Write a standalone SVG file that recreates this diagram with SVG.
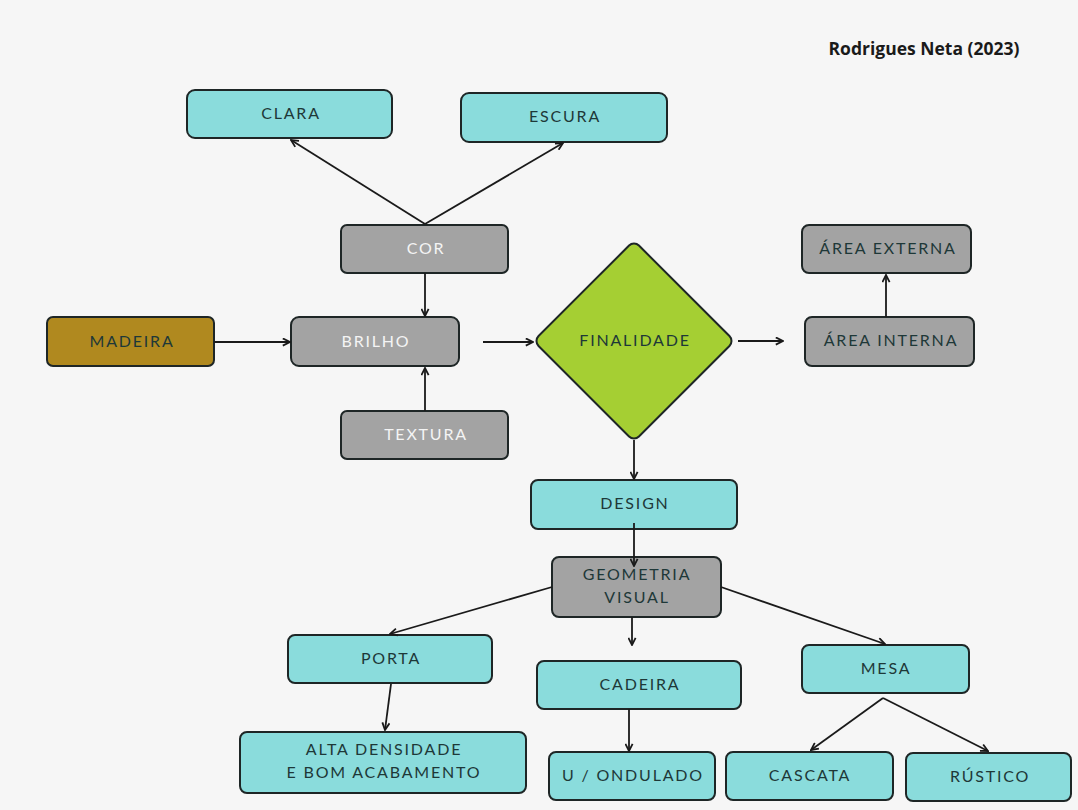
<svg xmlns="http://www.w3.org/2000/svg" width="1078" height="810" viewBox="0 0 1078 810">
<style>
.bx{stroke:#1e2626;stroke-width:2}
.cy{fill:#8adcdc}
.gr{fill:#a3a3a3}
.br{fill:#b0891f}
.t{font-family:Lato,"Open Sans",sans-serif;font-size:16px;letter-spacing:1.8px;text-anchor:middle;fill:#1e3838}
.w{fill:#f4f4f4}
.c{stroke:#1a1a1a;stroke-width:1.8;fill:none;marker-end:url(#ah)}
</style>
<defs>
<marker id="ah" viewBox="0 0 10 10" refX="9" refY="5" markerWidth="9" markerHeight="9" markerUnits="userSpaceOnUse" orient="auto">
<path d="M1,1 L9,5 L1,9" fill="none" stroke="#1a1a1a" stroke-width="2"/>
</marker>
</defs>
<rect x="0" y="0" width="1078" height="810" fill="#f6f6f6"/>
<text x="924" y="55" font-family="'Open Sans',sans-serif" font-weight="bold" font-size="17.5" text-anchor="middle" fill="#1a1a1a">Rodrigues Neta (2023)</text>
<g id="clara"><rect class="bx cy" x="187" y="90" width="205" height="48" rx="8"/><text class="t" x="291" y="119">CLARA</text></g>
<g id="escura"><rect class="bx cy" x="461" y="93" width="206" height="49" rx="8"/><text class="t" x="565" y="122">ESCURA</text></g>
<g id="cor"><rect class="bx gr" x="341" y="225" width="167" height="48" rx="6"/><text class="t w" x="426" y="254">COR</text></g>
<g id="madeira"><rect class="bx br" x="47" y="317" width="167" height="49" rx="6"/><text class="t" x="132" y="347" fill="#2a1e0a">MADEIRA</text></g>
<g id="brilho"><rect class="bx gr" x="291" y="317" width="168" height="49" rx="8"/><text class="t w" x="376" y="347">BRILHO</text></g>
<g id="textura"><rect class="bx gr" x="341" y="411" width="167" height="48" rx="6"/><text class="t w" x="426" y="440">TEXTURA</text></g>
<g id="finalidade"><rect class="bx" fill="#a5cf33" x="563" y="270" width="142" height="142" rx="7" transform="rotate(45 634 341)"/><text class="t" x="635" y="346">FINALIDADE</text></g>
<g id="area-externa"><rect class="bx gr" x="802" y="225" width="169" height="48" rx="7"/><text class="t" x="888" y="254">ÁREA EXTERNA</text></g>
<g id="area-interna"><rect class="bx gr" x="805" y="317" width="169" height="49" rx="7"/><text class="t" x="891" y="346">ÁREA INTERNA</text></g>
<g id="design"><rect class="bx cy" x="531" y="480" width="206" height="49" rx="7"/><text class="t" x="635" y="509">DESIGN</text></g>
<g id="geometria"><rect class="bx gr" x="552" y="557" width="169" height="60" rx="7"/><text class="t" x="637" y="580">GEOMETRIA</text><text class="t" x="637" y="603">VISUAL</text></g>
<g id="porta"><rect class="bx cy" x="288" y="635" width="204" height="48" rx="7"/><text class="t" x="391" y="664">PORTA</text></g>
<g id="cadeira"><rect class="bx cy" x="537" y="661" width="204" height="48" rx="7"/><text class="t" x="640" y="690">CADEIRA</text></g>
<g id="mesa"><rect class="bx cy" x="802" y="645" width="167" height="48" rx="7"/><text class="t" x="886" y="674">MESA</text></g>
<g id="alta"><rect class="bx cy" x="240" y="732" width="286" height="61" rx="7"/><text class="t" x="384" y="755">ALTA DENSIDADE</text><text class="t" x="384" y="778">E BOM ACABAMENTO</text></g>
<g id="ondulado"><rect class="bx cy" x="549" y="752" width="166" height="48" rx="7"/><text class="t" x="633" y="781">U / ONDULADO</text></g>
<g id="cascata"><rect class="bx cy" x="726" y="752" width="167" height="48" rx="7"/><text class="t" x="810" y="781">CASCATA</text></g>
<g id="rustico"><rect class="bx cy" x="906" y="753" width="165" height="48" rx="7"/><text class="t" x="990" y="782">RÚSTICO</text></g>
<g id="connectors">
<line class="c" x1="425" y1="224" x2="291" y2="140"/>
<line class="c" x1="425" y1="224" x2="563" y2="143"/>
<line class="c" x1="425" y1="273" x2="425" y2="316"/>
<line class="c" x1="214" y1="342" x2="290" y2="342"/>
<line class="c" x1="425" y1="411" x2="425" y2="368"/>
<line class="c" x1="483" y1="342" x2="533" y2="342"/>
<line class="c" x1="738" y1="341" x2="783" y2="341"/>
<line class="c" x1="886" y1="317" x2="886" y2="275"/>
<line class="c" x1="634" y1="440" x2="634" y2="479"/>
<line class="c" x1="634" y1="523" x2="634" y2="566"/>
<line class="c" x1="552" y1="587" x2="390" y2="634"/>
<line class="c" x1="632" y1="617" x2="632" y2="645"/>
<line class="c" x1="721" y1="587" x2="885" y2="644"/>
<line class="c" x1="391" y1="684" x2="385" y2="730"/>
<line class="c" x1="629" y1="709" x2="629" y2="751"/>
<line class="c" x1="883" y1="698" x2="811" y2="750"/>
<line class="c" x1="883" y1="698" x2="988" y2="751"/>
</g>
</svg>
